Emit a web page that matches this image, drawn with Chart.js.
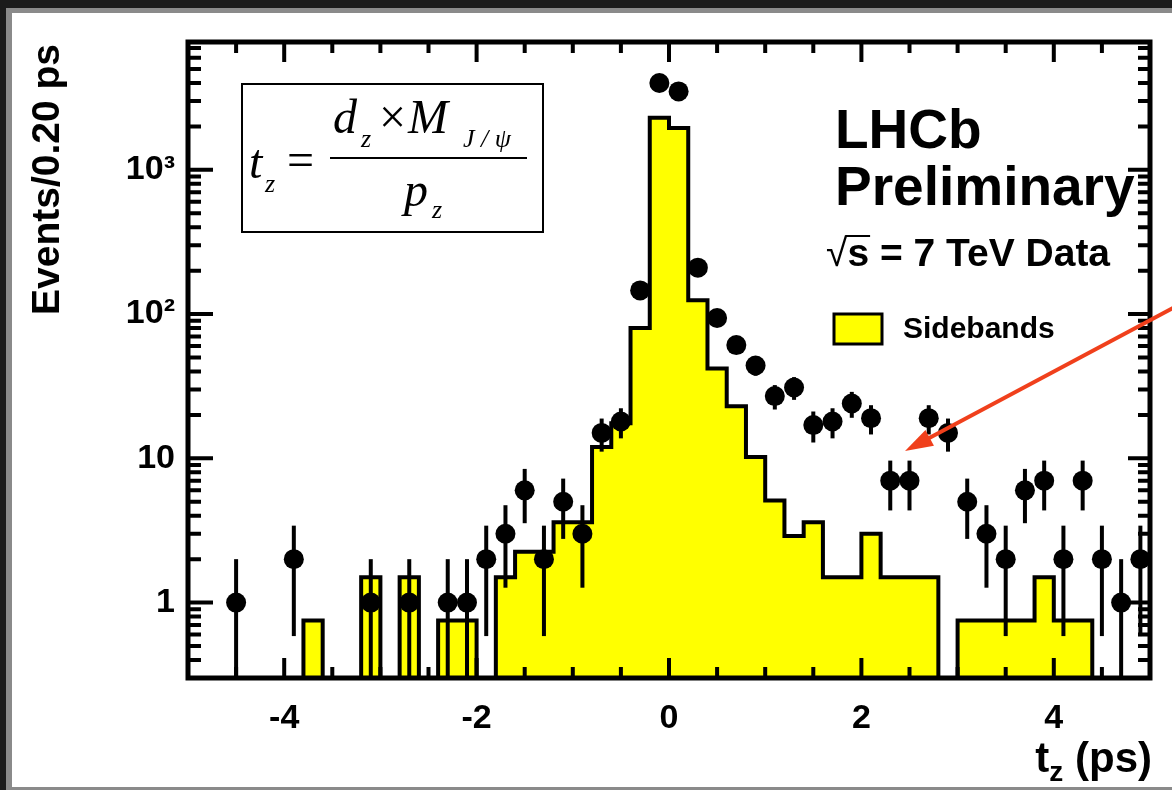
<!DOCTYPE html>
<html>
<head>
<meta charset="utf-8">
<script src="https://cdn.jsdelivr.net/npm/chart.js"></script>
<style>
  html, body { margin: 0; padding: 0; background: #1b1b1b; overflow: hidden; }
  #frame {
    position: absolute; left: 6px; top: 8px; width: 1200px; height: 774px;
    background: #fff;
    border-left: 6px solid #8a8a8a; border-top: 5px solid #8a8a8a; border-bottom: 3px solid #8a8a8a;
  }
  #tz { position: absolute; left: 0; top: 0; }
</style>
</head>
<body>
<div id="frame"></div>
<canvas id="tz" width="1172" height="790"></canvas>
<script>
// bins of 0.20 ps
const binCenters = [-4.9, -4.7, -4.5, -4.3, -4.1, -3.9, -3.7, -3.5, -3.3, -3.1,
                    -2.9, -2.7, -2.5, -2.3, -2.1, -1.9, -1.7, -1.5, -1.3, -1.1,
                    -0.9, -0.7, -0.5, -0.3, -0.1, 0.1, 0.3, 0.5, 0.7, 0.9,
                    1.1, 1.3, 1.5, 1.7, 1.9, 2.1, 2.3, 2.5, 2.7, 2.9,
                    3.1, 3.3, 3.5, 3.7, 3.9, 4.1, 4.3, 4.5, 4.7, 4.9]
const binWidth = 0.2

// sideband histogram (yellow)
const sidebands = [0, 0, 0, 0, 0, 0, 0.75, 0, 0, 1.5,
                   0, 1.5, 0, 0.75, 0.75, 0, 1.5, 2.25, 2.25, 3.6,
                   3.6, 12, 17.5, 80, 2300, 1950, 125, 42, 23, 10.2,
                   5.1, 2.9, 3.6, 1.5, 1.5, 3, 1.5, 1.5, 1.5, 0,
                   0.75, 0.75, 0.75, 0.75, 1.5, 0.75, 0.75, 0, 0, 0]

// data points
const dataX = [-4.5, -3.9, -3.1, -2.7, -2.3, -2.1, -1.9, -1.7, -1.5, -1.3,
               -1.1, -0.9, -0.7, -0.5, -0.3, -0.1, 0.1, 0.3, 0.5, 0.7,
               0.9, 1.1, 1.3, 1.5, 1.7, 1.9, 2.1, 2.3, 2.5, 2.7,
               2.9, 3.1, 3.3, 3.5, 3.7, 3.9, 4.1, 4.3, 4.5, 4.7, 4.9]
const dataY = [1, 2, 1, 1, 1, 1, 2, 3, 6, 2,
               5, 3, 15, 18, 146, 4000, 3500, 210, 94, 61,
               44, 27, 31, 17, 18, 24, 19, 7, 7, 19,
               15, 5, 3, 2, 6, 7, 2, 7, 2, 1, 2]

const xTickLabels = [-4, -2, 0, 2, 4]
const yTickValues = [1, 10, 100, 1000]
const yTickText = ['1', '10', '10²', '10³']
const xMin = -5, xMax = 5
const yMin = 0.3, yMax = 7700

const SANS = '"Liberation Sans", Arial, Helvetica, sans-serif'
const SERIF = '"Liberation Serif", "Times New Roman", serif'

// step outline: left edge of every bin, plus the closing right edge
const histPoints = binCenters.map((c, i) => ({ x: c - binWidth / 2, y: sidebands[i] > 0 ? sidebands[i] : yMin }))
histPoints.push({ x: binCenters[binCenters.length - 1] + binWidth / 2, y: histPoints[histPoints.length - 1].y })

const decorations = {
  id: 'decorations',
  afterDatasetsDraw(chart) {
    // poisson error bars
    const { ctx, chartArea } = chart
    const x = chart.scales.x, y = chart.scales.y
    ctx.save()
    ctx.strokeStyle = '#000'
    ctx.lineWidth = 4
    dataX.forEach((v, i) => {
      const n = dataY[i], e = Math.sqrt(n)
      const px = x.getPixelForValue(v)
      const top = y.getPixelForValue(n + e)
      const bot = n - e > yMin ? y.getPixelForValue(n - e) : chartArea.bottom
      ctx.beginPath()
      ctx.moveTo(px, top)
      ctx.lineTo(px, bot)
      ctx.stroke()
    })
    ctx.restore()
  },
  afterDraw(chart) {
    const { ctx, chartArea: a } = chart
    const x = chart.scales.x, y = chart.scales.y
    ctx.save()

    // tick marks on all four sides
    ctx.strokeStyle = '#000'
    ctx.lineWidth = 4
    ctx.beginPath()
    for (let v = xMin + 0.5; v < xMax; v += 0.5) {
      const px = x.getPixelForValue(v)
      const len = Math.abs(v % 2) < 1e-6 ? 20 : 11
      ctx.moveTo(px, a.bottom); ctx.lineTo(px, a.bottom - len)
      ctx.moveTo(px, a.top); ctx.lineTo(px, a.top + len)
    }
    for (let d = 0.1; d <= 1000; d *= 10) {
      for (let m = 1; m <= 9; m++) {
        const v = d * m
        if (v < yMin || v > yMax) continue
        const py = y.getPixelForValue(v)
        const major = m === 1
        ctx.moveTo(a.left, py); ctx.lineTo(a.left + (major ? 25 : 13), py)
        ctx.moveTo(a.right, py); ctx.lineTo(a.right - (major ? 22 : 12), py)
      }
    }
    ctx.stroke()

    // frame
    ctx.lineWidth = 5
    ctx.strokeRect(a.left, a.top, a.right - a.left, a.bottom - a.top)

    // axis titles
    ctx.fillStyle = '#000'
    ctx.font = 'bold 39px ' + SANS
    ctx.save()
    ctx.translate(48, a.top + 2)
    ctx.rotate(-Math.PI / 2)
    ctx.textAlign = 'right'
    ctx.textBaseline = 'middle'
    ctx.fillText('Events/0.20 ps', 0, 0)
    ctx.restore()

    ctx.textBaseline = 'alphabetic'
    ctx.textAlign = 'left'
    const big = 'bold 42px ' + SANS, small = 'bold 28px ' + SANS
    ctx.font = big
    const wRest = ctx.measureText(' (ps)').width
    const wT = ctx.measureText('t').width
    ctx.font = small
    const wZ = ctx.measureText('z').width
    const tx = a.right + 2 - wRest - wZ - wT
    ctx.font = big
    ctx.fillText('t', tx, 772)
    ctx.font = small
    ctx.fillText('z', tx + wT, 781)
    ctx.font = big
    ctx.fillText(' (ps)', tx + wT + wZ, 772)

    // LHCb labels
    ctx.font = 'bold 55px ' + SANS
    ctx.fillText('LHCb', 835, 148)
    ctx.fillText('Preliminary', 835, 205)
    ctx.font = '39px ' + SANS
    ctx.fillText('√', 826, 266)
    const sq = ctx.measureText('√').width
    ctx.font = 'bold 39px ' + SANS
    const ws = ctx.measureText('s').width
    ctx.fillText('s = 7 TeV Data', 826 + sq, 266)
    ctx.lineWidth = 2
    ctx.beginPath()
    ctx.moveTo(826 + sq - 2, 236); ctx.lineTo(826 + sq + ws + 1, 236)
    ctx.stroke()

    // legend
    ctx.fillStyle = '#ffff00'
    ctx.fillRect(834, 314, 48, 30)
    ctx.lineWidth = 3
    ctx.strokeRect(834, 314, 48, 30)
    ctx.fillStyle = '#000'
    ctx.font = 'bold 30px ' + SANS
    ctx.fillText('Sidebands', 903, 338)

    // formula box
    ctx.lineWidth = 2
    ctx.strokeRect(242, 84, 301, 148)
    ctx.font = 'italic 48px ' + SERIF
    ctx.fillText('t', 249, 178)
    ctx.fillText('d', 333, 133)
    ctx.fillText('M', 408, 133)
    ctx.fillText('p', 404, 206)
    ctx.font = 'italic 26px ' + SERIF
    ctx.fillText('z', 265, 192)
    ctx.fillText('z', 361, 147)
    ctx.fillText('J / ψ', 463, 147)
    ctx.fillText('z', 432, 218)
    ctx.font = '48px ' + SERIF
    ctx.fillText('=', 287, 176)
    ctx.fillText('×', 379, 133)
    ctx.beginPath()
    ctx.moveTo(330, 158); ctx.lineTo(527, 158)
    ctx.stroke()

    // red arrow
    const tip = [905, 451], tail = [1175, 307]
    const ang = Math.atan2(tip[1] - tail[1], tip[0] - tail[0])
    ctx.strokeStyle = '#f0401c'
    ctx.fillStyle = '#f0401c'
    ctx.lineWidth = 4
    ctx.beginPath()
    ctx.moveTo(tail[0], tail[1])
    ctx.lineTo(tip[0] - 20 * Math.cos(ang), tip[1] - 20 * Math.sin(ang))
    ctx.stroke()
    ctx.beginPath()
    ctx.moveTo(tip[0], tip[1])
    ctx.lineTo(tip[0] - 28 * Math.cos(ang) + 9 * Math.sin(ang), tip[1] - 28 * Math.sin(ang) - 9 * Math.cos(ang))
    ctx.lineTo(tip[0] - 28 * Math.cos(ang) - 9 * Math.sin(ang), tip[1] - 28 * Math.sin(ang) + 9 * Math.cos(ang))
    ctx.closePath()
    ctx.fill()

    ctx.restore()
  }
}

const ctx = document.getElementById('tz').getContext('2d')

new Chart(ctx, {
  type: 'line',
  data: {
    datasets: [
      {
        type: 'scatter',
        label: 'Data',
        data: dataX.map((v, i) => ({ x: v, y: dataY[i] })),
        pointRadius: 10,
        pointBackgroundColor: '#000',
        pointBorderWidth: 0,
        showLine: false,
        order: 0
      },
      {
        type: 'line',
        label: 'Sidebands',
        data: histPoints,
        stepped: 'before',
        fill: 'start',
        backgroundColor: '#ffff00',
        borderColor: '#000',
        borderWidth: 4,
        pointRadius: 0,
        order: 1
      }
    ]
  },
  options: {
    responsive: false,
    animation: false,
    devicePixelRatio: 1,
    layout: { padding: { left: 0, top: 42, right: 22, bottom: 0 } },
    plugins: {
      legend: { display: false },
      tooltip: { enabled: false }
    },
    scales: {
      x: {
        type: 'linear',
        min: xMin,
        max: xMax,
        afterBuildTicks: s => { s.ticks = xTickLabels.map(v => ({ value: v })) },
        afterFit: s => { s.height = 112 },
        grid: { display: false, drawTicks: false },
        border: { display: false },
        ticks: {
          autoSkip: false,
          maxRotation: 0,
          padding: 20,
          color: '#000',
          font: { family: SANS, size: 34, weight: 'bold' }
        }
      },
      y: {
        type: 'logarithmic',
        min: yMin,
        max: yMax,
        afterBuildTicks: s => { s.ticks = yTickValues.map(v => ({ value: v })) },
        afterFit: s => { s.width = 188 },
        grid: { display: false, drawTicks: false },
        border: { display: false },
        ticks: {
          autoSkip: false,
          padding: 13,
          color: '#000',
          font: { family: SANS, size: 34, weight: 'bold' },
          callback: v => yTickText[yTickValues.indexOf(v)] ?? ''
        }
      }
    }
  },
  plugins: [decorations]
})
</script>
</body>
</html>
